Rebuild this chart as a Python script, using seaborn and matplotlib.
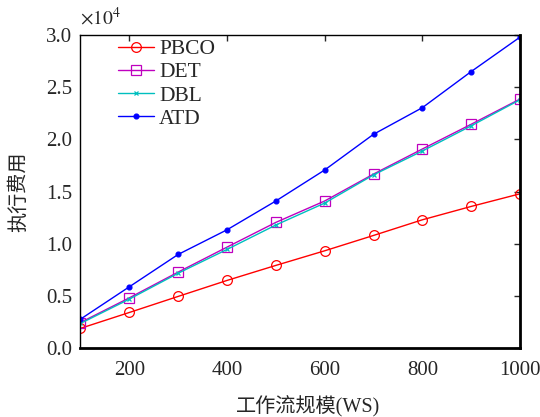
import pandas as pd
import matplotlib.pyplot as plt
import seaborn as sns

# data (units of 1e4)
ws = [100, 200, 300, 400, 500, 600, 700, 800, 900, 1000]
pbco = [0.19, 0.342, 0.496, 0.649, 0.793, 0.933, 1.08, 1.23, 1.358, 1.479]
det = [0.246, 0.482, 0.729, 0.968, 1.205, 1.41, 1.668, 1.908, 2.145, 2.387]
dbl = [0.237, 0.47, 0.718, 0.946, 1.18, 1.39, 1.66, 1.889, 2.13, 2.38]
atd = [0.278, 0.588, 0.898, 1.134, 1.41, 1.707, 2.049, 2.304, 2.65, 2.98]

sns.set_style('white')
plt.rcParams['font.family'] = ['Liberation Serif', 'Noto Sans CJK SC']
plt.rcParams['mathtext.fontset'] = 'stix'

fig = plt.figure(figsize=(5.4, 4.17), dpi=100)
ax = fig.add_axes([0.149, 0.165, 0.814, 0.751])

series = [('PBCO', pbco, 'red', 'o', 7, 'none'),
          ('DET', det, 'm', 's', 7, 'none'),
          ('DBL', dbl, 'c', 'x', 3.5, 'c'),
          ('ATD', atd, 'b', 'o', 3.5, 'b')]

for name, vals, col, mk, ms, mfc in series:
    df = pd.DataFrame({'ws': ws, 'cost': [v * 1e4 for v in vals]})
    sns.lineplot(data=df, x='ws', y='cost', ax=ax, color=col, marker=mk,
                 markersize=ms, markerfacecolor=mfc, markeredgecolor=col,
                 markeredgewidth=0.9, linewidth=1.0, label=name)

ax.set_xlim(100, 1000)
ax.set_ylim(0, 30000)
ax.set_xticks([200, 400, 600, 800, 1000])
ax.set_yticks([0, 5000, 10000, 15000, 20000, 25000, 30000])
ax.set_yticklabels(['0.0', '0.5', '1.0', '1.5', '2.0', '2.5', '3.0'])
ax.tick_params(direction='in', top=True, right=True, length=4, width=1,
               labelsize=15)
ax.tick_params(axis='x', pad=9)
ax.tick_params(axis='y', pad=6)
for side, s in ax.spines.items():
    s.set_color('black')
    s.set_linewidth(2.0 if side in ('bottom', 'right') else 1.0)

ax.text(0.0, 1.02, r'$\times10^4$', transform=ax.transAxes, fontsize=14,
        ha='left', va='bottom')
ax.set_xlabel('工作流规模(WS)', fontsize=14.5)
ax.xaxis.set_label_coords(0.517, -0.152)
ax.set_ylabel('执行费用', fontsize=14.5, labelpad=12)

ax.legend(loc='upper left', frameon=False, fontsize=15.5, handlelength=1.65,
          handletextpad=0.25, labelspacing=0.14, borderpad=0.1,
          borderaxespad=0.1, bbox_to_anchor=(0.076, 1.0))

fig.savefig('out.png', dpi=100)
